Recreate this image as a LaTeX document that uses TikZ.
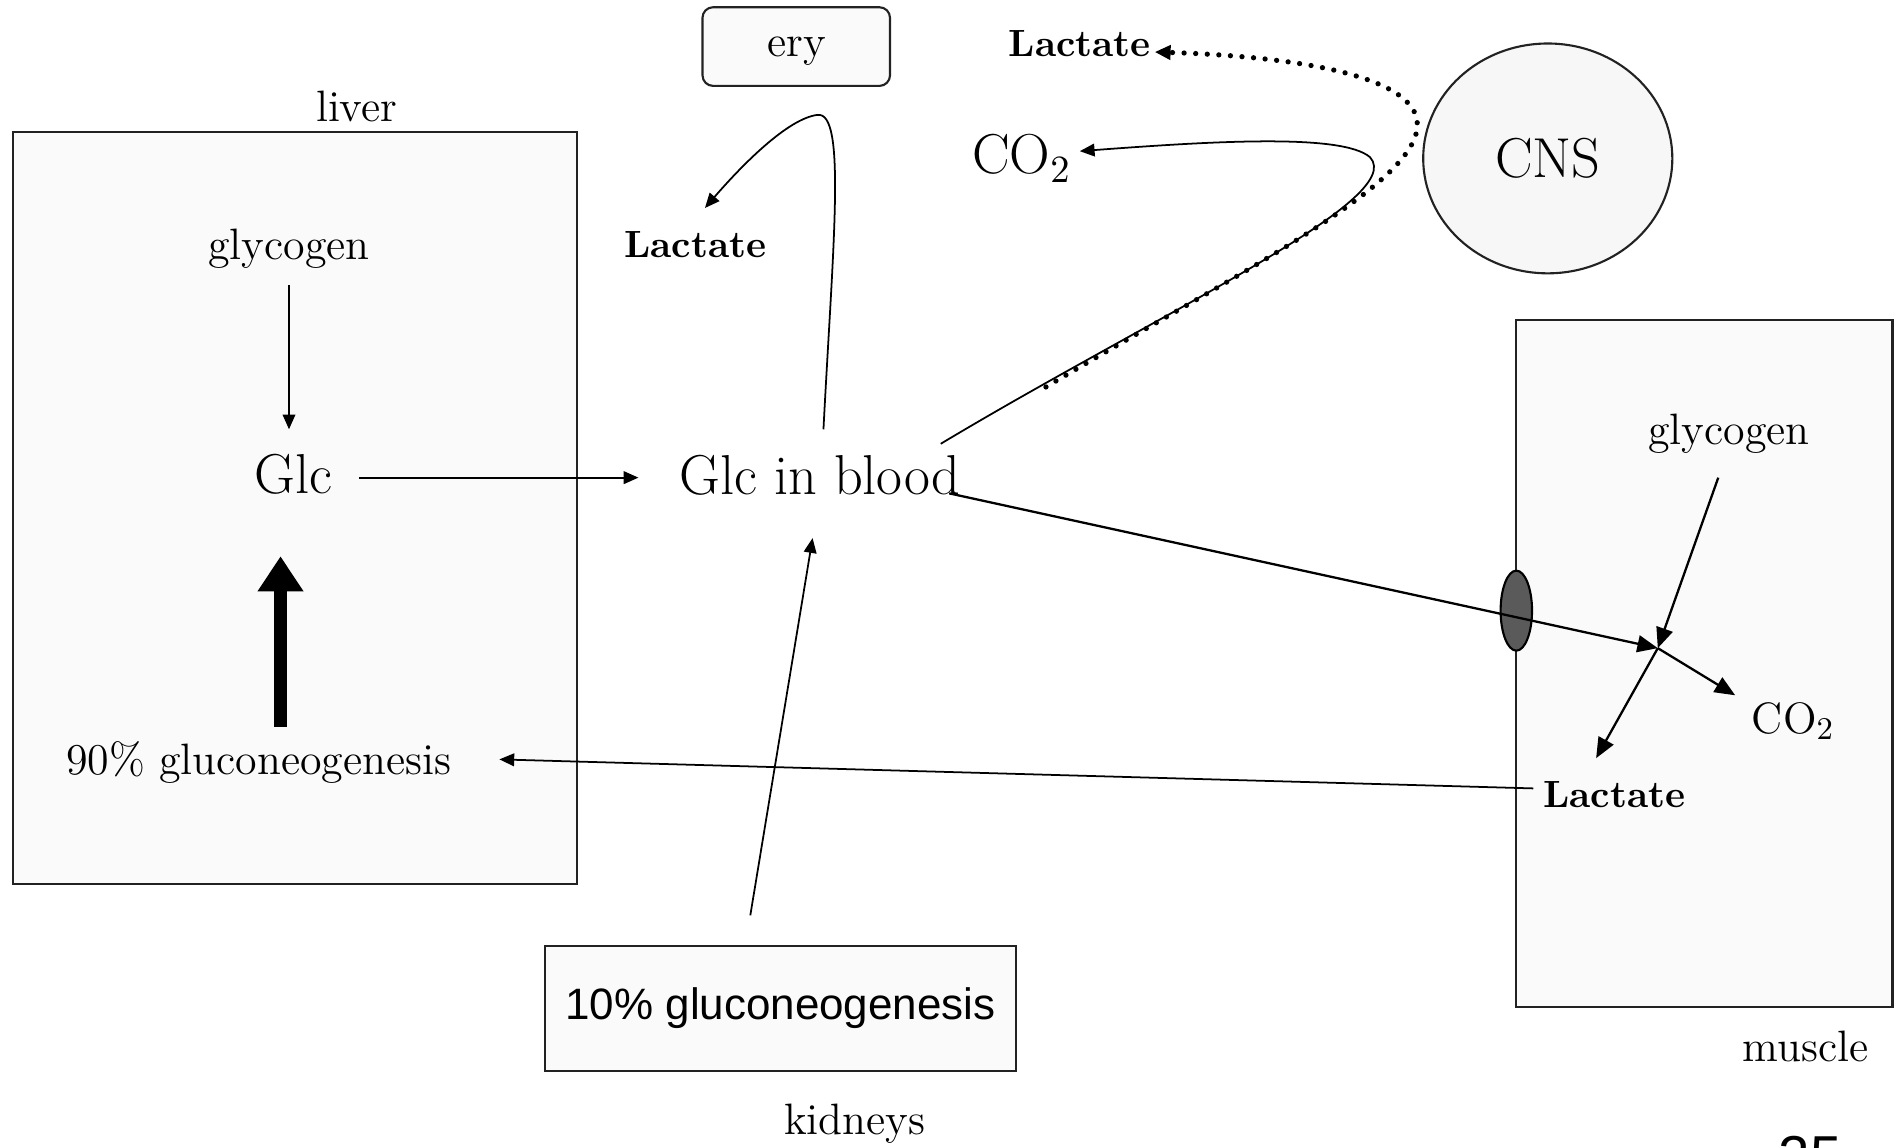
\documentclass[tikz,border=0pt]{standalone}
\usepackage{fontspec}
\newfontfamily\arialfont{Liberation Sans}
\usetikzlibrary{arrows.meta,shapes.geometric,calc}
\definecolor{boxfill}{HTML}{FAFAFA}
\definecolor{boxline}{HTML}{222222}
\definecolor{chan}{HTML}{5A5A5A}
\begin{document}
\begin{tikzpicture}[x=0.01209cm,y=-0.01209cm,
  small/.style={font=\fontsize{12.5}{14}\selectfont, inner sep=0pt},
  big/.style={font=\fontsize{16}{18}\selectfont, inner sep=0pt},
  boldlab/.style={font=\fontsize{10.8}{13}\selectfont\bfseries, inner sep=0pt},
  organ/.style={draw=boxline, fill=boxfill, line width=0.6pt, inner sep=0pt},
  arr/.style={-{Triangle[length=4.2pt,width=3.6pt]}, line width=0.5pt},
  bigarr/.style={-{Triangle[length=5.8pt,width=4.8pt]}, line width=0.65pt},
  dotarr/.style={-{Triangle[length=4.5pt,width=4pt]}, line width=1.5pt, line cap=round, dash pattern=on 0pt off 3.3pt},
]
\useasboundingbox (0,0) rectangle (1568,949);
\clip (0,0) rectangle (1568,949);

% organ boxes
\node[organ, minimum width=5.634cm, minimum height=7.520cm] (liver) at (244,420) {};
\node[organ, minimum width=3.760cm, minimum height=6.867cm] (muscle) at (1409.5,549) {};
\node[organ, minimum width=4.703cm, minimum height=1.257cm, font=\arialfont\fontsize{12.5}{14}\selectfont] (kid) at (645.5,834) {10\% gluconeogenesis};
\node[organ, rounded corners=3pt, minimum width=1.874cm, minimum height=0.786cm] (ery) at (658.5,38.5) {};
\node[small] (erytext) at (659,42) {ery};
\node[organ, ellipse, fill=black!3, minimum width=2.49cm, minimum height=2.297cm, big] (cns) at (1280,131) {CNS};
\node[draw=black, fill=chan, ellipse, line width=0.6pt, inner sep=0pt, minimum width=0.314cm, minimum height=0.80cm] (channel) at (1254,505) {};

% labels
\node[small] (liverlab) at (295,88) {liver};
\node[small] (musclelab) at (1493,865) {muscle};
\node[small] (kidlab) at (707,929) {kidneys};
\node[font=\arialfont\fontsize{16}{18}\selectfont, inner sep=0pt, anchor=north] (pagenum) at (1497,939) {25};

% liver contents
\node[small] (glycL) at (239,206) {glycogen};
\node[big] (glcL) at (243,392) {Glc};
\node[small] (gng90) at (214,631) {90\% gluconeogenesis};

% blood
\node[big] (glcB) at (678,393) {Glc in blood};
\node[boldlab] (lacE) at (575,202) {Lactate};
\node[boldlab] (lacC) at (893,36) {Lactate};
\node[big] (co2C) at (845,131) {CO$_2$};

% muscle contents
\node[small] (glycM) at (1430,359) {glycogen};
\node[small] (co2M) at (1483,596) {CO$_2$};
\node[boldlab] (lacM) at (1335,657) {Lactate};
\coordinate (jn) at (1371,536);

% connectors
\draw[arr] ($(glycL)+(0,30)$) -- ($(glcL)+(-4,-37)$);
\draw[line width=3.5pt, -{Triangle[length=10pt,width=12.4pt]}] ($(gng90)+(18,-30)$) -- ($(glcL)+(-11,68)$);
\draw[arr] ($(glcL)+(54,3)$) -- ($(glcB)+(-150,2)$);
\draw[arr] ($(glcB)+(3,-38)$) .. controls (689,200) and (700,92) .. (676,95)
  .. controls (652,98) and (615,135) .. ($(lacE)+(8,-30)$);
\draw[arr] ($(glcB)+(100,-26)$) .. controls (960,258) and (1165,165) .. (1133,130)
  .. controls (1110,110) and (1000,117) .. ($(co2C)+(48,-6)$);
\draw[dotarr] ($(glcB)+(187,-73)$) .. controls (1030,222) and (1178,150) .. (1172,100)
  .. controls (1166,58) and (1050,46) .. ($(lacC)+(62,7)$);
\draw[arr] ($(kid)+(-25,-77)$) -- ($(glcB)+(-6,52)$);
\draw[bigarr] ($(glcB)+(107,15)$) -- (jn);
\draw[bigarr] ($(glycM)+(-9,36)$) -- (jn);
\draw[bigarr] (jn) -- ($(co2M)+(-48,-21)$);
\draw[bigarr] (jn) -- ($(lacM)+(-15,-30)$);
\draw[arr] ($(lacM)+(-67,-5)$) -- ($(gng90)+(199,-3)$);
\end{tikzpicture}
\end{document}
